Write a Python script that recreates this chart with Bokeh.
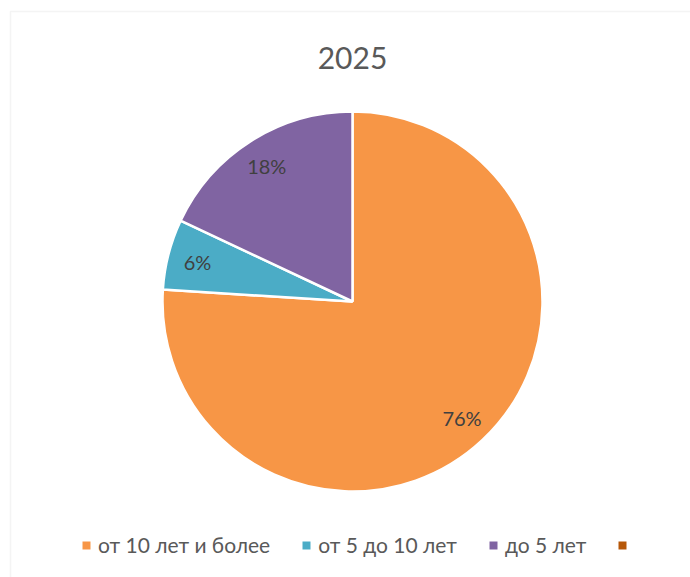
import math
from bokeh.plotting import figure
from bokeh.models import (ColumnDataSource, Range1d, Legend, LegendItem,
                          BoxAnnotation, Label, CDSView, BooleanFilter)
from bokeh.embed import file_html
from bokeh.resources import INLINE

# ---- data ----
title_text = "2025"
categories = ["от 10 лет и более", "от 5 до 10 лет", "до 5 лет", ""]
shares = [76, 6, 18, 0]
colors = ["#F79646", "#4BACC6", "#8064A2", "#B65708"]

# ---- layout constants ----
W, H = 690, 577
CX, CY = 352, H - 301     # pie centre (data units = px)
R = 190
LABEL_R = 160
FONT = "Lato"

total = sum(shares)
starts, ends, lx, ly, ltxt = [], [], [], [], []
cum = 0.0
for s in shares:
    a0 = math.pi / 2 - 2 * math.pi * cum / total
    cum += s
    a1 = math.pi / 2 - 2 * math.pi * cum / total
    starts.append(a1)
    ends.append(a0)
    mid = (a0 + a1) / 2
    lx.append(CX + LABEL_R * math.cos(mid))
    ly.append(CY + LABEL_R * math.sin(mid))
    ltxt.append(f"{round(100 * s / total)}%" if s > 0 else "")

src = ColumnDataSource(dict(cat=categories, share=shares, start=starts,
                            end=ends, color=colors, lx=lx, ly=ly, txt=ltxt))
nonzero = CDSView(filter=BooleanFilter([s > 0 for s in shares]))

p = figure(width=W, height=H, x_range=Range1d(0, W), y_range=Range1d(0, H),
           output_backend="svg", toolbar_location=None, min_border=0)
p.axis.visible = False
p.grid.visible = False
p.outline_line_color = None
p.background_fill_color = "white"
p.border_fill_color = "white"

# chart-area border (only left and top edges visible in window)
p.add_layout(BoxAnnotation(left=10, right=W + 20, top=H - 11, bottom=-20,
                           fill_alpha=0, line_color="#D9D9D9", line_width=1.5))

p.wedge(x=CX, y=CY, radius=R, radius_units="screen",
        start_angle="start", end_angle="end", direction="anticlock",
        fill_color="color", line_color="white", line_width=2.5,
        source=src, view=nonzero)

# legend-only renderer (zero radius, draws nothing on the plot)
leg_r = p.wedge(x=CX, y=CY, radius=0, radius_units="screen",
                start_angle="start", end_angle="end",
                fill_color="color", line_color=None, source=src)

p.text(x="lx", y="ly", text="txt", source=src, text_align="center",
       text_baseline="middle", text_font_size="20px", text_color="#404040",
       text_font={"value": FONT})

p.add_layout(Label(x=CX, y=H - 57, text=title_text, text_align="center",
                   text_baseline="middle", text_font_size="30px",
                   text_color="#595959", text_font=FONT))

items = [LegendItem(label=c, renderers=[leg_r], index=i)
         for i, c in enumerate(categories)]
legend = Legend(items=items, orientation="horizontal", location=(81, 20),
                glyph_width=10, glyph_height=10, label_standoff=7, spacing=31,
                padding=0, margin=0, border_line_color=None,
                background_fill_alpha=0, label_text_font=FONT,
                label_text_font_size="21px", label_text_color="#595959",
                label_height=24)
p.add_layout(legend, "center")

open("out.html", "w").write(file_html(p, INLINE))
